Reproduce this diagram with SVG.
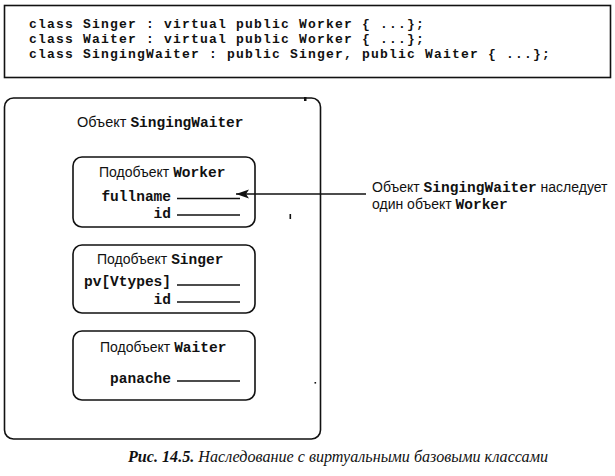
<svg xmlns="http://www.w3.org/2000/svg" width="615" height="476" viewBox="0 0 615 476">
<defs>
<style>
.box{fill:#fff;stroke:#111;stroke-width:1.6}
.mono{font-family:"Liberation Mono","DejaVu Sans Mono",monospace;font-weight:bold;fill:#111}
.code{font-size:13px;letter-spacing:1.2px}
.sans{font-family:"Liberation Sans","Noto Sans",Arial,sans-serif;fill:#111}
.cap{font-family:"Liberation Serif","DejaVu Serif",serif;font-style:italic;fill:#111}
.ul{stroke:#111;stroke-width:1.3}
.conn{stroke:#111;stroke-width:1.3;fill:none}
</style>
<marker id="arr" markerWidth="14" markerHeight="10" refX="13" refY="5" orient="auto" markerUnits="userSpaceOnUse">
<path d="M0,0.5 L13,5 L0,9.5 L3,5 Z" fill="#111"/>
</marker>
</defs>
<rect width="615" height="476" fill="#fff"/>

<g id="code">
<rect class="box" x="4.5" y="5.5" width="606" height="72"/>
<text class="mono code" x="29" y="28" xml:space="preserve">class Singer : virtual public Worker { ...};</text>
<text class="mono code" x="29" y="43" xml:space="preserve">class Waiter : virtual public Worker { ...};</text>
<text class="mono code" x="29" y="58" xml:space="preserve">class SingingWaiter : public Singer, public Waiter { ...};</text>
</g>

<g id="singingwaiter">
<rect class="box" x="4.5" y="98" width="316" height="341" rx="9"/>
<text x="77" y="127"><tspan class="sans" font-size="14.5">Объект </tspan><tspan class="mono" font-size="14.5">SingingWaiter</tspan></text>
</g>

<g id="worker">
<rect class="box" x="73" y="157" width="182" height="70" rx="9"/>
<text x="99" y="177"><tspan class="sans" font-size="14">Подобъект </tspan><tspan class="mono" font-size="14.5">Worker</tspan></text>
<text class="mono" font-size="14.5" x="171" y="201" text-anchor="end">fullname</text>
<line class="ul" x1="177" y1="198.5" x2="240" y2="198.5"/>
<text class="mono" font-size="14.5" x="171" y="218" text-anchor="end">id</text>
<line class="ul" x1="177" y1="215" x2="240" y2="215"/>
</g>

<g id="singer">
<rect class="box" x="73" y="245" width="182" height="68" rx="9"/>
<text x="97" y="264"><tspan class="sans" font-size="14">Подобъект </tspan><tspan class="mono" font-size="14.5">Singer</tspan></text>
<text class="mono" font-size="14.5" x="171" y="286" text-anchor="end">pv[Vtypes]</text>
<line class="ul" x1="177" y1="285" x2="240" y2="285"/>
<text class="mono" font-size="14.5" x="171" y="304" text-anchor="end">id</text>
<line class="ul" x1="177" y1="302" x2="240" y2="302"/>
</g>

<g id="waiter">
<rect class="box" x="73" y="331" width="182" height="69" rx="9"/>
<text x="100" y="352"><tspan class="sans" font-size="14">Подобъект </tspan><tspan class="mono" font-size="14.5">Waiter</tspan></text>
<text class="mono" font-size="14.5" x="171" y="383" text-anchor="end">panache</text>
<line class="ul" x1="177" y1="381" x2="240" y2="381"/>
</g>

<g id="connectors">
<line class="conn" x1="366" y1="194" x2="236" y2="194" marker-end="url(#arr)"/>
</g>

<g id="note">
<text x="372" y="192"><tspan class="sans" font-size="14">Объект </tspan><tspan class="mono" font-size="14.5">SingingWaiter</tspan><tspan class="sans" font-size="14"> наследует</tspan></text>
<text x="372" y="209"><tspan class="sans" font-size="14">один объект </tspan><tspan class="mono" font-size="14.5">Worker</tspan></text>
</g>

<g id="marks" fill="#111">
<rect x="304" y="97" width="2.5" height="4"/>
<rect x="289.5" y="214" width="1.6" height="5"/>
<rect x="314.5" y="382" width="1.6" height="1.6"/>
</g>

<g id="caption">
<text class="cap" font-size="17.5" x="128" y="462" textLength="420" lengthAdjust="spacingAndGlyphs"><tspan font-weight="bold">Рис. 14.5.</tspan> Наследование с виртуальными базовыми классами</text>
</g>
</svg>
